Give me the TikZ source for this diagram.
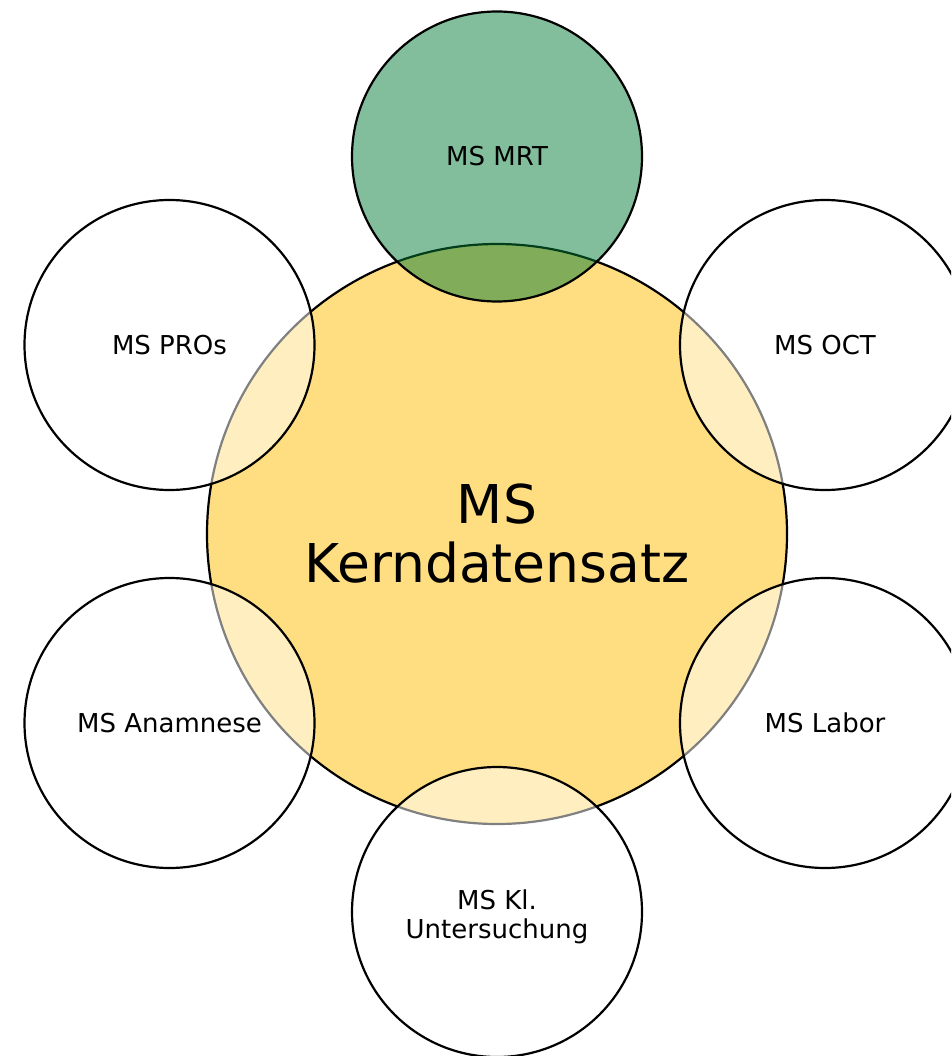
\documentclass[tikz,border=0pt]{standalone}
\usepackage{fontspec}
\setmainfont{DejaVu Sans}
\definecolor{coreyellow}{RGB}{255,222,129}
\definecolor{mrtgreen}{RGB}{5,125,55}
\begin{document}
\begin{tikzpicture}[x=1pt,y=-1pt,
  core/.style={circle, draw=black, line width=2.2pt, fill=coreyellow, minimum size=580pt, inner sep=0pt, align=center, font=\fontsize{53.5}{59}\selectfont},
  module/.style={circle, draw=black, line width=2.2pt, fill=white, fill opacity=0.5, text opacity=1, minimum size=290pt, inner sep=0pt, align=center, font=\fontsize{26}{29}\selectfont},
  mrt/.style={module, fill=mrtgreen}]
\useasboundingbox (0,0) rectangle (951,1056);
\clip (0,0) rectangle (951,1056);
\node[core] (core) at (497,534) {MS\\Kerndatensatz};
\node[module] (pros) at (169.5,345) {MS PROs};
\node[module] (oct) at (825,345) {MS OCT};
\node[module] (anam) at (169.5,723) {MS Anamnese};
\node[module] (labor) at (825,723) {MS Labor};
\node[module] (klin) at (497,912) {};
\node[font=\fontsize{26}{29}\selectfont, align=center] (klinlabel) at (497,917) {MS Kl.\\Untersuchung};
\node[mrt] (mrt) at (497,156.5) {MS MRT};
\end{tikzpicture}
\end{document}
